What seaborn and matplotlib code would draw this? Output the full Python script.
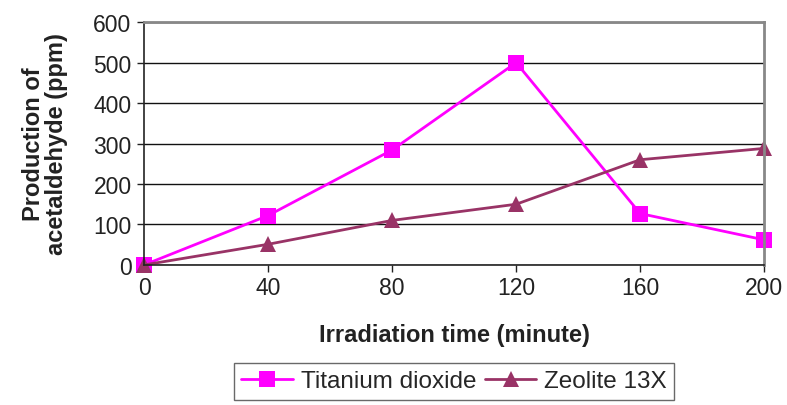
import pandas as pd
import seaborn as sns
import matplotlib.pyplot as plt

# Data
times = [0, 40, 80, 120, 160, 200]
titanium_dioxide = [0, 122, 284, 500, 127, 62]
zeolite_13x = [0, 51, 110, 150, 260, 288]

df = pd.DataFrame({
    'time': times * 2,
    'value': titanium_dioxide + zeolite_13x,
    'series': ['Titanium dioxide'] * len(times) + ['Zeolite 13X'] * len(times),
})

sns.set_style("white")
plt.rcParams['font.family'] = ['Liberation Sans', 'DejaVu Sans']

fig = plt.figure(figsize=(7.87, 4.06), dpi=100)
ax = fig.add_axes([0.183, 0.345, 0.788, 0.598])

palette = {'Titanium dioxide': '#FF00FF', 'Zeolite 13X': '#993366'}
markers = {'Titanium dioxide': 's', 'Zeolite 13X': '^'}
sns.lineplot(data=df, x='time', y='value', hue='series', style='series',
             palette=palette, markers=markers, dashes=False, markersize=11,
             markeredgewidth=0, linewidth=2, ax=ax, legend=True)

ax.set_xlim(0, 200)
ax.set_ylim(0, 600)
ax.set_xticks(times)
ax.set_yticks(range(0, 601, 100))
ax.tick_params(axis='both', labelsize=16.5, length=5, width=1, colors='#222222',
               direction='out', bottom=True, left=True)
ax.tick_params(axis='x', pad=3)
ax.tick_params(axis='y', pad=4)
ax.grid(axis='y', color='#111111', linewidth=1)
ax.set_axisbelow(True)
for side in ['left', 'bottom']:
    ax.spines[side].set_color('#222222')
    ax.spines[side].set_linewidth(1.2)
for side in ['top', 'right']:
    ax.spines[side].set_color('#888888')
    ax.spines[side].set_linewidth(2)
for m in ax.lines:
    m.set_clip_on(False)

ax.set_xlabel('Irradiation time (minute)', fontsize=17, fontweight='bold',
              color='#222222', labelpad=17)
ax.set_ylabel('Production of\nacetaldehyde (ppm)', fontsize=17, fontweight='bold',
              color='#222222', labelpad=18, linespacing=1.0)

handles, labels = ax.get_legend_handles_labels()
ax.get_legend().remove()
leg = fig.legend(handles, labels, loc='upper center', bbox_to_anchor=(0.577, 0.103),
                 ncol=2, fontsize=17.5, frameon=True, fancybox=False,
                 edgecolor='#444444', borderpad=0.3, borderaxespad=0,
                 handlelength=2.1, columnspacing=0.37, handletextpad=0.33)
leg.get_frame().set_linewidth(1)

fig.savefig('out.png', dpi=100)
